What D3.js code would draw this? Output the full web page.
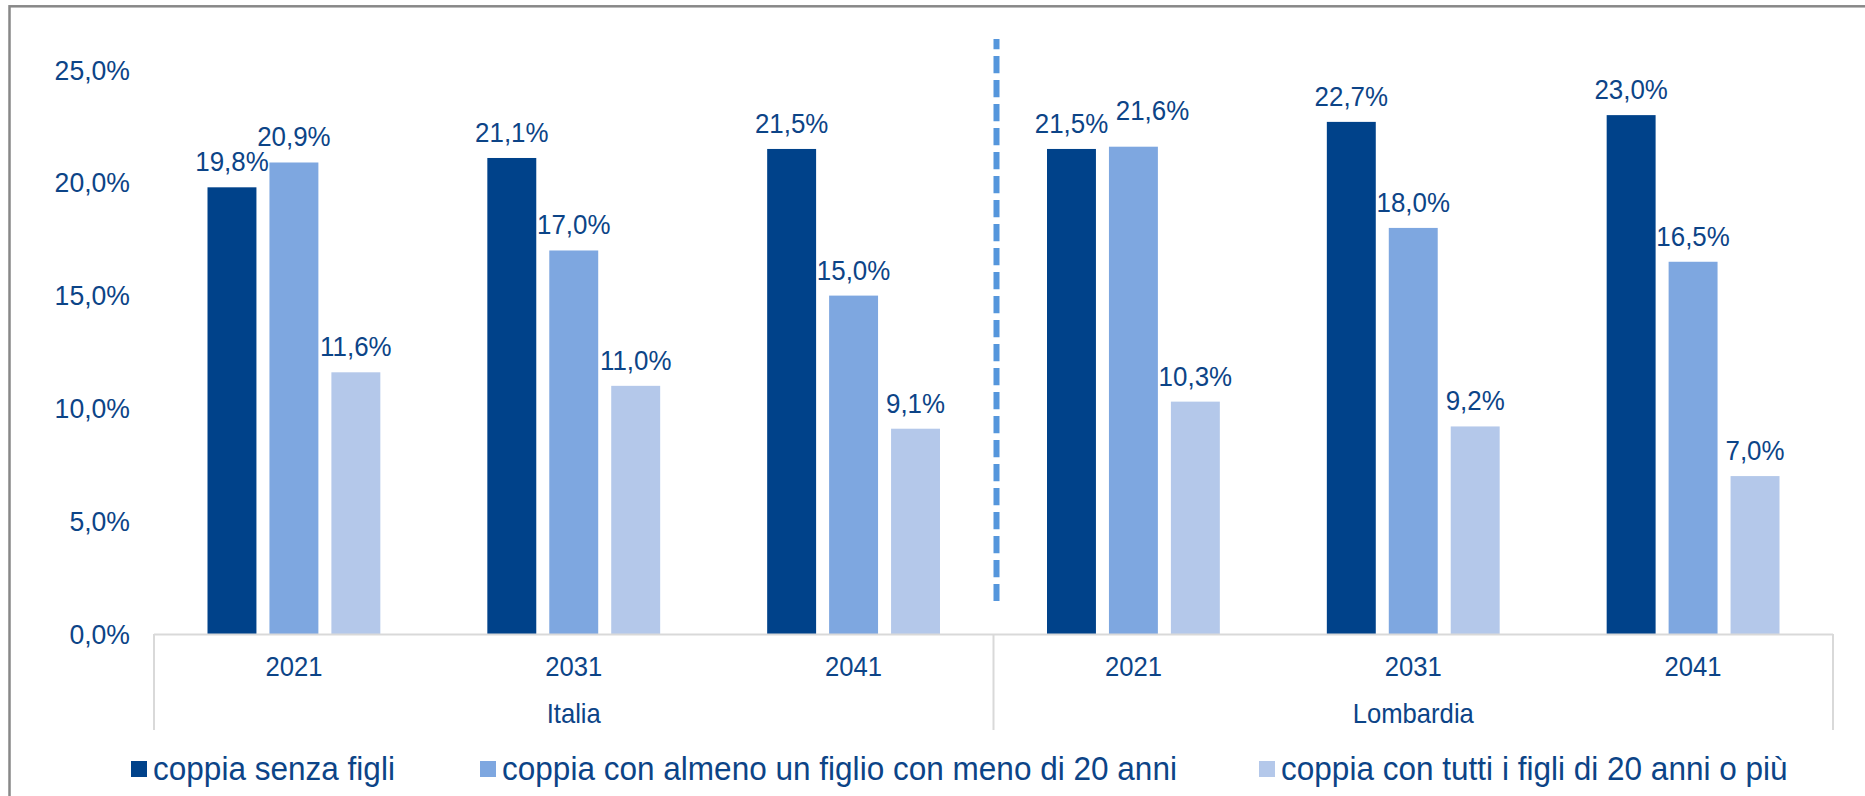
<!DOCTYPE html>
<html>
<head>
<meta charset="utf-8">
<script src="https://cdn.jsdelivr.net/npm/d3@7"></script>
<style>
  html, body { margin: 0; padding: 0; background: #fff; }
  svg { display: block; }
  text { font-family: "Liberation Sans", Arial, sans-serif; }
</style>
</head>
<body>
<svg id="chart" width="1865" height="796"></svg>
<script>
// ---- data ----
const regions = ["Italia", "Lombardia"];
const years = ["2021", "2031", "2041"];
const seriesNames = [
  "coppia senza figli",
  "coppia con almeno un figlio con meno di 20 anni",
  "coppia con tutti i figli di 20 anni o più"
];
// values in % ; order: Italia 2021, 2031, 2041, Lombardia 2021, 2031, 2041
const senzaFigli   = [19.8, 21.1, 21.5, 21.5, 22.7, 23.0];
const figlioMeno20 = [20.9, 17.0, 15.0, 21.6, 18.0, 16.5];
const tuttiFigli20 = [11.6, 11.0, 9.1, 10.3, 9.2, 7.0];
const yTicks = [0, 5, 10, 15, 20, 25];

// ---- styles ----
const colors = ["#00428a", "#7ea7e0", "#b4c8ea"];
const textColor = "#0c4487";
const axisColor = "#d9d9d9";
const SX = 0.95; // horizontal text compression seen in the reference

const svg = d3.select("#chart");

function label(g, x, y, txt, size, anchor) {
  return g.append("text")
    .attr("transform", `translate(${x},${y}) scale(${SX},1)`)
    .attr("text-anchor", anchor || "middle")
    .attr("fill", textColor).attr("font-size", size + "px")
    .text(txt);
}

// frame
svg.append("rect")
  .attr("x", 9.5).attr("y", 6.3)
  .attr("width", 3000).attr("height", 3000)
  .attr("fill", "none").attr("stroke", "#888").attr("stroke-width", 2.5);

const cats = [];
regions.forEach(r => years.forEach(y => cats.push(r + "|" + y)));
const seriesVals = [senzaFigli, figlioMeno20, tuttiFigli20];

const x0 = d3.scaleBand().domain(cats).range([154, 1833]).paddingInner(0).paddingOuter(0);
const x1 = d3.scaleBand().domain(d3.range(seriesNames.length))
  .range([53.5, x0.bandwidth() - 53.5]).paddingInner(0.21).paddingOuter(0);
const y = d3.scaleLinear().domain([0, 25]).range([634, 70]);

const fmt = v => d3.format(".1f")(v).replace(".", ",") + "%";

// y axis labels
const gy = svg.append("g");
yTicks.forEach(t => label(gy, 130, y(t) + 9.5, fmt(t), 28, "end"));

// bars
const groups = svg.append("g").selectAll("g")
  .data(cats).join("g")
  .attr("transform", d => `translate(${x0(d)},0)`);

groups.each(function(c, ci) {
  const g = d3.select(this);
  seriesVals.forEach((vals, si) => {
    const v = vals[ci];
    g.append("rect")
      .attr("x", x1(si)).attr("y", y(v))
      .attr("width", x1.bandwidth()).attr("height", y(0) - y(v))
      .attr("fill", colors[si]);
  });
});

// data labels (a label nudged when it would collide with its neighbour, as in the reference)
const lg = svg.append("g");
cats.forEach((c, ci) => {
  let prev = null;
  seriesVals.forEach((vals, si) => {
    const v = vals[ci];
    let lx = x0(c) + x1(si) + x1.bandwidth() / 2;
    let ly = y(v) - 16;
    if (prev && Math.abs(prev.y - ly) < 20 && lx - prev.x < 80) {
      lx = prev.x + 81;
      ly = prev.y - 13;
    }
    label(lg, lx, ly, fmt(v), 27.3);
    prev = { x: lx, y: ly };
  });
});

// x axis baseline and separators
const ax = svg.append("g");
ax.append("line").attr("x1", 154).attr("x2", 1833).attr("y1", y(0) + 0.5).attr("y2", y(0) + 0.5)
  .attr("stroke", axisColor).attr("stroke-width", 2);
const sepX = [x0(cats[0]), x0(cats[3]), x0(cats[5]) + x0.bandwidth()];
ax.selectAll(".sep").data(sepX).join("line")
  .attr("x1", d => d).attr("x2", d => d)
  .attr("y1", y(0)).attr("y2", 730)
  .attr("stroke", axisColor).attr("stroke-width", 2);

// year labels
const yl = svg.append("g");
cats.forEach(c => label(yl, x0(c) + x0.bandwidth() / 2, 676, c.split("|")[1], 27));

// region labels
const rl = svg.append("g");
regions.forEach((r, i) => label(rl, x0(cats[i * 3]) + x0.bandwidth() * 1.5, 723, r, 27));

// dashed divider
const dx = x0(cats[3]) + 3;
svg.append("line")
  .attr("x1", dx).attr("x2", dx).attr("y1", 39).attr("y2", 601)
  .attr("stroke", "#5596dc").attr("stroke-width", 6)
  .attr("stroke-dasharray", "17.3,6.7").attr("stroke-dashoffset", 7);

// legend
const legX = [131, 480, 1259];
const leg = svg.append("g");
seriesNames.forEach((name, i) => {
  leg.append("rect").attr("x", legX[i]).attr("y", 761).attr("width", 16).attr("height", 16)
    .attr("fill", colors[i]);
  label(leg, legX[i] + 22, 780, name, 33.2, "start");
});
</script>
</body>
</html>
